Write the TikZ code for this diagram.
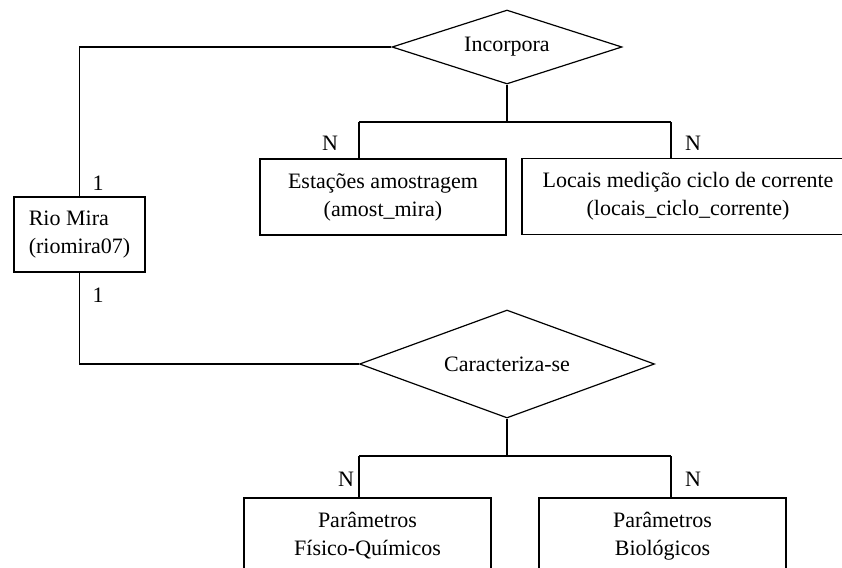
\documentclass[tikz,border=0pt]{standalone}
\usepackage{fontspec}
\setmainfont{Liberation Serif}
\usepackage{tikz}
\usetikzlibrary{shapes.geometric,calc}

\tikzset{
  ent/.style={draw,rectangle,minimum height=38pt,inner sep=2pt,align=center},
  rel/.style={draw,diamond,inner sep=0pt},
  card/.style={inner sep=0pt}
}

\begin{document}
\begin{tikzpicture}[x=0.5pt,y=-0.5pt,line width=0.6pt,
  font=\fontsize{11pt}{14pt}\selectfont]
\useasboundingbox (0,0) rectangle (842,568);
\clip (0,0) rectangle (842,568);

% relationships
\node[rel,shape aspect=3.1,minimum width=115pt,minimum height=37pt] (incorp) at (507,47) {Incorpora};
\node[rel,shape aspect=2.7,minimum width=147.5pt,minimum height=54pt] (caract) at (507,364) {Caracteriza-se};

% entities
\node[ent,minimum width=65.5pt,minimum height=37.5pt,align=left] (riomira) at (79.5,234.5)
  {Rio Mira\\(riomira07)};
\node[ent,minimum width=123pt] (amost) at (383,197) {Estações amostragem\\(amost\_mira)};
\node[ent,minimum width=166pt] (locais) at (688,196.5)
  {Locais medição ciclo de corrente\\(locais\_ciclo\_corrente)};
\node[ent,minimum width=123.5pt] (fisqui) at (367.5,536) {Parâmetros\\Físico-Químicos};
\node[ent,minimum width=123.5pt] (biolog) at (662.5,536) {Parâmetros\\Biológicos};

% branch points
\coordinate (inc-j) at (507,122);
\coordinate (inc-l) at (359,122);
\coordinate (inc-r) at (671,122);
\coordinate (car-j) at (507,456);
\coordinate (car-l) at (359,456);
\coordinate (car-r) at (671,456);

% links
\draw (incorp.west) -| (riomira.north);
\draw (riomira.south) |- (caract.west);
\draw (incorp.south) -- (inc-j);
\draw (inc-l) -- (inc-r);
\draw (inc-l) -- (inc-l |- amost.north);
\draw (inc-r) -- (inc-r |- locais.north);
\draw (caract.south) -- (car-j);
\draw (car-l) -- (car-r);
\draw (car-l) -- (car-l |- fisqui.north);
\draw (car-r) -- (car-r |- biolog.north);

% cardinalities
\node[card] (c-rio1) at (98,183) {1};
\node[card] (c-rio2) at (98,295) {1};
\node[card] (c-amo) at (330,143) {N};
\node[card] (c-loc) at (693,143) {N};
\node[card] (c-fis) at (346,479) {N};
\node[card] (c-bio) at (693,479) {N};
\end{tikzpicture}
\end{document}
